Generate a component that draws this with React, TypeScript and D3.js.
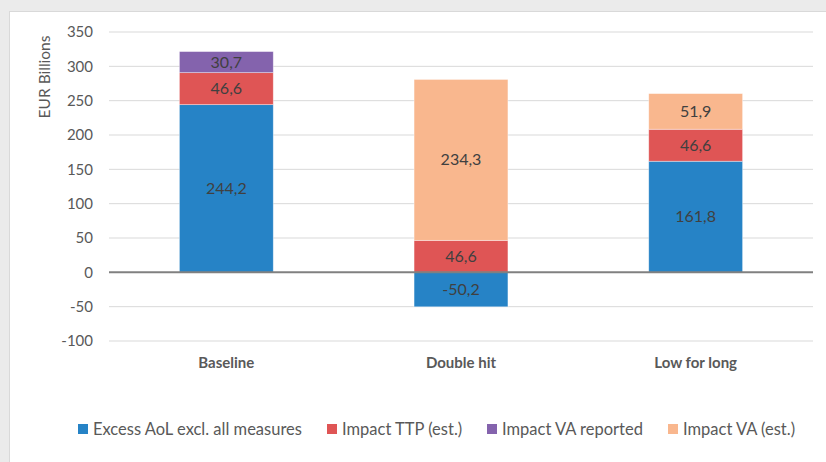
import React from 'react';
import * as d3 from 'd3';

const categories = ['Baseline', 'Double hit', 'Low for long'];
const seriesNames = ['Excess AoL excl. all measures', 'Impact TTP (est.)', 'Impact VA reported', 'Impact VA (est.)'];
const seriesColors = ['#2683c6', '#df5555', '#8463ad', '#f9b78e'];
const excessAoL = [244.2, -50.2, 161.8];
const impactTTP = [46.6, 46.6, 46.6];
const impactVAReported = [30.7, 0, 0];
const impactVAEst = [0, 234.3, 51.9];
const yTicks = [-100, -50, 0, 50, 100, 150, 200, 250, 300, 350];

const W = 826;
const H = 462;
const FONT = 'Lato, "Liberation Sans", sans-serif';

const App: React.FC = () => {
  const margin = { left: 109, right: 13, top: 32, bottom: 121 };
  const x = d3.scaleBand<string>()
    .domain(categories)
    .range([margin.left, W - margin.right])
    .paddingInner(0.6)
    .paddingOuter(0.3);
  const y = d3.scaleLinear().domain([-100, 350]).range([H - margin.bottom, margin.top]);

  const rows = categories.map((c, i) => ({
    cat: c,
    s0: excessAoL[i],
    s1: impactTTP[i],
    s2: impactVAReported[i],
    s3: impactVAEst[i],
  }));
  const stack = d3.stack<any>()
    .keys(['s0', 's1', 's2', 's3'])
    .offset(d3.stackOffsetDiverging);
  const layers = stack(rows);

  const fmt = (v: number) => v.toFixed(1).replace('.', ',');

  const legendX = [78, 327, 487, 668];

  return (
    <svg width={W} height={H} style={{ position: 'absolute', left: 0, top: 0, fontFamily: FONT }}>
      <rect x={0} y={0} width={W} height={H} fill="#ebebeb" />
      <rect x={9.5} y={11.5} width={W} height={H} fill="#ffffff" stroke="#d9d9d9" />
      {yTicks.filter(t => t !== 0).map(t => (
        <line key={t} x1={margin.left} x2={W - margin.right} y1={y(t)} y2={y(t)} stroke="#d9d9d9" strokeWidth={1} />
      ))}
      {yTicks.map(t => (
        <text key={'l' + t} x={93} y={y(t)} dy="0.35em" textAnchor="end" fontSize={15} fill="#595959">{t}</text>
      ))}
      <text transform={`translate(50,77) rotate(-90)`} textAnchor="middle" fontSize={15.5} fill="#595959">EUR Billions</text>
      {layers.map((layer, li) => (
        <g key={li}>
          {layer.map((d, ci) => {
            const v = rows[ci][`s${li}` as 's0'];
            if (!v) return null;
            const y0 = y(d[0]);
            const y1 = y(d[1]);
            const top = Math.min(y0, y1);
            const h = Math.abs(y0 - y1);
            return (
              <g key={ci}>
                <rect x={x(categories[ci])} y={top} width={x.bandwidth()} height={h} fill={seriesColors[li]} stroke="#ffffff" strokeOpacity={0.5} strokeWidth={0.75} />
                <text x={(x(categories[ci]) as number) + x.bandwidth() / 2} y={top + h / 2} dy="0.35em" textAnchor="middle" fontSize={16} fill="#404040">{fmt(v)}</text>
              </g>
            );
          })}
        </g>
      ))}
      <line x1={margin.left} x2={W - margin.right} y1={y(0)} y2={y(0)} stroke="#808080" strokeWidth={2} />
      {categories.map(c => (
        <text key={c} x={(x(c) as number) + x.bandwidth() / 2} y={363} dy="0.35em" textAnchor="middle" fontSize={15} fontWeight="bold" fill="#595959">{c}</text>
      ))}
      {seriesNames.map((n, i) => (
        <g key={n}>
          <rect x={legendX[i]} y={424} width={10} height={10} fill={seriesColors[i]} />
          <text x={legendX[i] + 15} y={429} dy="0.35em" fontSize={16.5} fill="#595959">{n}</text>
        </g>
      ))}
    </svg>
  );
};

export default App;
